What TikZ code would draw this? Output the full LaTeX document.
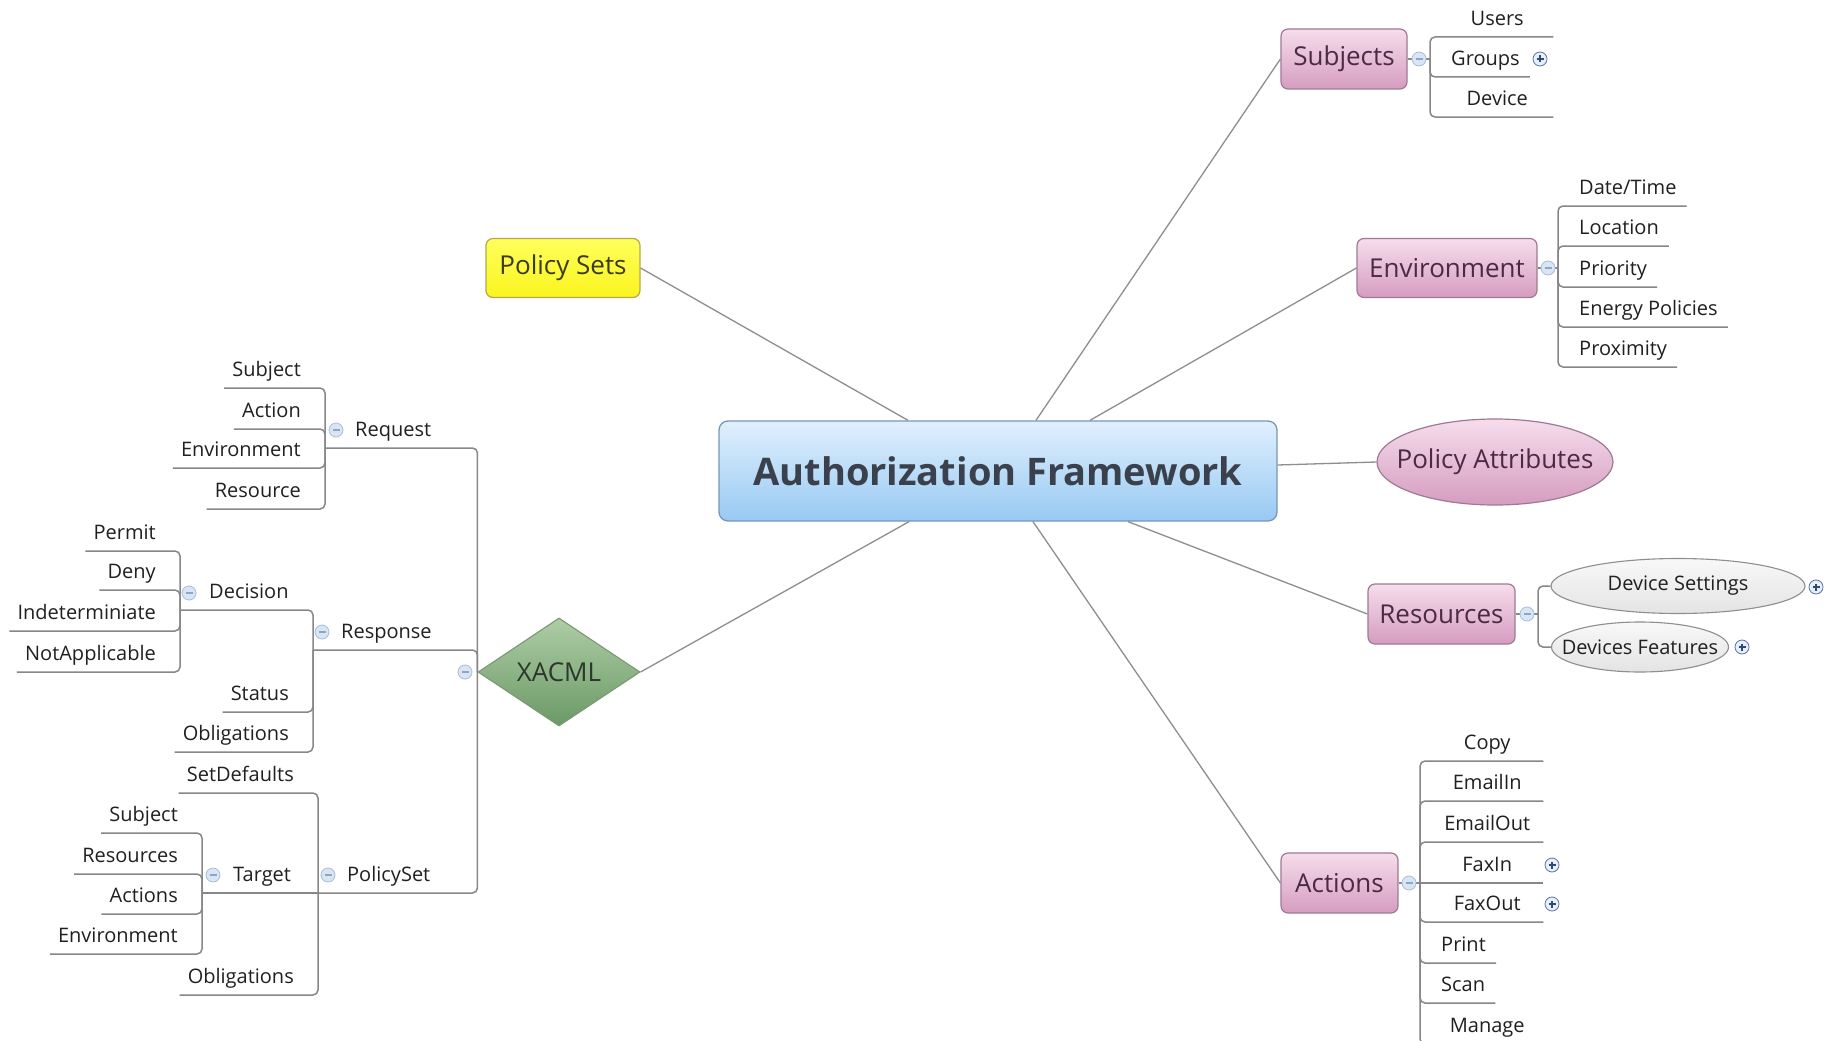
\documentclass[tikz,border=0pt]{standalone}
\usepackage{fontspec}
\setmainfont{Open Sans}
\usetikzlibrary{shapes.geometric}

\definecolor{linegray}{HTML}{8E8E8E}
\definecolor{ulinegray}{HTML}{878787}
\definecolor{leaftext}{HTML}{202020}
\definecolor{pinktop}{HTML}{F6DDEC}
\definecolor{pinkbot}{HTML}{D59CC0}
\definecolor{pinkedge}{HTML}{9E7A92}
\definecolor{pinktext}{HTML}{4A2A44}
\definecolor{bluetop}{HTML}{E0F0FD}
\definecolor{bluebot}{HTML}{98C9F3}
\definecolor{blueedge}{HTML}{7896B8}
\definecolor{bluetext}{HTML}{3A414C}
\definecolor{yeltop}{HTML}{FFFF5C}
\definecolor{yelbot}{HTML}{FAF41E}
\definecolor{yeledge}{HTML}{B5A94E}
\definecolor{yeltext}{HTML}{3C3A20}
\definecolor{greentop}{HTML}{AECDA6}
\definecolor{greenbot}{HTML}{6B9966}
\definecolor{greenedge}{HTML}{7A9872}
\definecolor{greentext}{HTML}{2B382B}
\definecolor{ovaltop}{HTML}{F8F8F8}
\definecolor{ovalbot}{HTML}{E4E4E4}
\definecolor{ovaledge}{HTML}{8E8E8E}
\definecolor{foldfill}{HTML}{D9E5F3}
\definecolor{foldedge}{HTML}{A6BEDC}
\definecolor{foldsign}{HTML}{8EA6C6}
\definecolor{plusfill}{HTML}{E8EFF8}
\definecolor{plusedge}{HTML}{5874A6}
\definecolor{plussign}{HTML}{2A4A80}

\newcommand{\leaffont}{\fontsize{20}{24}\selectfont}
\newcommand{\topicfont}{\fontsize{26}{31}\selectfont}

\tikzset{
  conn/.style={draw=linegray, line width=1.3pt},
  uline/.style={draw=ulinegray, line width=1.5pt, rounded corners=5pt},
  topic/.style={rounded corners=7pt, draw=pinkedge, line width=1.2pt,
    top color=pinktop, bottom color=pinkbot, text=pinktext,
    font=\topicfont, inner sep=0pt},
  yellowtopic/.style={topic, draw=yeledge, top color=yeltop,
    bottom color=yelbot, text=yeltext},
  central/.style={rounded corners=9pt, draw=blueedge, line width=1.3pt,
    top color=bluetop, bottom color=bluebot, text=bluetext,
    font=\fontsize{38}{44}\selectfont\bfseries, inner sep=0pt,
    minimum width=558pt, minimum height=100pt},
  pinkoval/.style={ellipse, draw=pinkedge, line width=1.2pt,
    top color=pinktop, bottom color=pinkbot, text=pinktext,
    font=\topicfont, inner sep=0pt},
  greyoval/.style={ellipse, draw=ovaledge, line width=1.1pt,
    top color=ovaltop, bottom color=ovalbot, text=leaftext,
    font=\leaffont, inner sep=0pt},
  greendiamond/.style={diamond, aspect=1.5, draw=greenedge, line width=1.1pt,
    top color=greentop, bottom color=greenbot, text=greentext,
    font=\topicfont, inner sep=0pt, minimum width=162pt, minimum height=108pt},
  leafbase/.style={inner ysep=0pt, text height=18pt, text depth=11.5pt,
    font=\leaffont, text=leaftext},
  leafR/.style={leafbase, anchor=south west, inner xsep=10pt,
    execute at begin node={\hspace*{11pt}}},
  leafL/.style={leafbase, anchor=south east, inner xsep=8pt,
    execute at end node={\hspace*{16pt}}},
  midtopic/.style={leafbase, anchor=south west, inner xsep=0pt},
  fold/.style={circle, minimum size=14pt, inner sep=0pt, draw=foldedge,
    fill=foldfill, line width=0.8pt,
    path picture={\draw[foldsign, line width=1.3pt]
      ([xshift=-3.5pt]path picture bounding box.center) --
      ([xshift=3.5pt]path picture bounding box.center);}},
  expand/.style={circle, minimum size=14pt, inner sep=0pt, draw=plusedge,
    fill=plusfill, line width=0.8pt,
    path picture={\draw[plussign, line width=1.2pt]
      ([xshift=-3.5pt]path picture bounding box.center) --
      ([xshift=3.5pt]path picture bounding box.center)
      ([yshift=-3.5pt]path picture bounding box.center) --
      ([yshift=3.5pt]path picture bounding box.center);}},
}

\begin{document}
\begin{tikzpicture}[x=1pt,y=-1pt]
\useasboundingbox (0,0) rectangle (1837,1041);
\clip (0,0) rectangle (1837,1041);
\fill[white] (0,0) rectangle (1837,1041);

% ---------- main topics ----------
\node[central] (af) at (998,471) {Authorization Framework};
\node[yellowtopic, minimum width=154pt, minimum height=59pt] (pset) at (563,268) {Policy Sets};
\node[topic, minimum width=126pt, minimum height=60pt] (subj) at (1344,59) {Subjects};
\node[topic, minimum width=180pt, minimum height=59pt] (env) at (1447,268) {Environment};
\node[pinkoval, minimum width=236pt, minimum height=86pt] (pattr) at (1495,462) {\makebox[0pt]{Policy Attributes}};
\node[topic, minimum width=147pt, minimum height=60pt] (res) at (1441.5,614) {Resources};
\node[topic, minimum width=117pt, minimum height=60pt] (act) at (1339.5,883) {Actions};
\node[greendiamond] (xacml) at (559,672) {XACML};

% ---------- connectors from the central topic ----------
\draw[conn] ([xshift=-90pt]af.north) -- (pset.east);
\draw[conn] ([xshift=38pt]af.north) -- (subj.west);
\draw[conn] ([xshift=92pt]af.north) -- (env.west);
\draw[conn] ([yshift=6pt]af.east) -- (pattr.west);
\draw[conn] ([xshift=130pt]af.south) -- (res.west);
\draw[conn] ([xshift=35pt]af.south) -- (act.west);
\draw[conn] ([xshift=-89pt]af.south) -- (xacml.east);

% ---------- Subjects ----------
\coordinate (subj-j) at (1430,59);
\draw[uline] (subj.east) -- (subj-j);
\node[leafR, minimum width=123pt] (users) at (1430,37) {Users};
\node[leafR] (groups) at (1430,77) {Groups};
\node[leafR, minimum width=123pt] (device) at (1430,117) {Device};
\foreach \n in {users,groups,device} \draw[uline] (\n.south east) -| (subj-j);
\node[fold] (subj-f) at (1419,59) {};
\node[expand] (groups-x) at (1540,59) {};

% ---------- Environment ----------
\coordinate (env-j) at (1558,268);
\draw[uline] (env.east) -- (env-j);
\node[leafR] (datetime) at (1558,206) {Date/Time};
\node[leafR] (location) at (1558,246) {Location};
\node[leafR] (priority) at (1558,287) {Priority};
\node[leafR] (energy) at (1558,327) {Energy Policies};
\node[leafR] (proximity) at (1558,367) {Proximity};
\foreach \n in {datetime,location,priority,energy,proximity} \draw[uline] (\n.south east) -| (env-j);
\node[fold] (env-f) at (1548,268) {};

% ---------- Resources ----------
\coordinate (res-j) at (1538,614);
\draw[uline] (res.east) -- (res-j);
\node[greyoval, minimum width=254pt, minimum height=55pt] (dset) at (1678,586) {\makebox[0pt]{Device Settings}};
\node[greyoval, minimum width=177pt, minimum height=50pt] (dfeat) at (1640,647) {\makebox[0pt]{Devices Features}};
\draw[uline] (dset.west) -| (res-j);
\draw[uline] (dfeat.west) -| (res-j);
\node[fold] (res-f) at (1527,614) {};
\node[expand] (dset-x) at (1816,587) {};
\node[expand] (dfeat-x) at (1742,647) {};

% ---------- Actions ----------
\coordinate (act-j) at (1420,883);
\draw[uline] (act.east) -- (act-j);
\node[leafR, minimum width=123pt] (copy) at (1420,761) {Copy};
\node[leafR, minimum width=123pt] (emailin) at (1420,801) {EmailIn};
\node[leafR, minimum width=123pt] (emailout) at (1420,842) {EmailOut};
\node[leafR, minimum width=123pt] (faxin) at (1420,883) {FaxIn};
\node[leafR, minimum width=123pt] (faxout) at (1420,922) {FaxOut};
\node[leafR] (print) at (1420,963) {Print};
\node[leafR] (scan) at (1420,1003) {Scan};
\node[leafR, minimum width=123pt] (manage) at (1420,1044) {Manage};
\foreach \n in {copy,emailin,emailout,faxout,print,scan,manage} \draw[uline] (\n.south east) -| (act-j);
\draw[uline] (faxin.south east) -- (faxin.south west);
\node[fold] (act-f) at (1409,883) {};
\node[expand] (faxin-x) at (1552,865) {};
\node[expand] (faxout-x) at (1552,904) {};

% ---------- XACML: Request ----------
\node[midtopic] (req) at (355,448) {Request};
\coordinate (req-l) at (325,448);
\draw[uline] (req-l) -| (xacml.west);
\node[leafL] (rq-subject) at (325,388) {Subject};
\node[leafL] (rq-action) at (325,429) {Action};
\node[leafL] (rq-env) at (325,468) {Environment};
\node[leafL] (rq-resource) at (325,509) {Resource};
\foreach \n in {rq-subject,rq-action,rq-env,rq-resource} \draw[uline] (\n.south west) -| (req-l);
\node[fold] (req-f) at (336,430) {};

% ---------- XACML: Response ----------
\node[midtopic] (resp) at (341,650) {Response};
\coordinate (resp-l) at (313,650);
\draw[uline] (resp-l) -| (xacml.west);
\node[midtopic] (dec) at (209,610) {Decision};
\coordinate (dec-l) at (180,610);
\draw[uline] (dec-l) -| (resp-l);
\node[leafL] (permit) at (180,551) {Permit};
\node[leafL] (deny) at (180,590) {Deny};
\node[leafL] (indet) at (180,631) {Indeterminiate};
\node[leafL] (notapp) at (180,672) {NotApplicable};
\foreach \n in {permit,deny,indet,notapp} \draw[uline] (\n.south west) -| (dec-l);
\node[leafL] (status) at (313,712) {Status};
\node[leafL] (rs-oblig) at (313,752) {Obligations};
\foreach \n in {status,rs-oblig} \draw[uline] (\n.south west) -| (resp-l);
\node[fold] (resp-f) at (322,632) {};
\node[fold] (dec-f) at (189,593) {};

% ---------- XACML: PolicySet ----------
\node[midtopic] (pol) at (347,893) {PolicySet};
\coordinate (pol-l) at (318,893);
\draw[uline] (pol-l) -| (xacml.west);
\node[leafL] (setdef) at (318,793) {SetDefaults};
\node[leafL] (ps-oblig) at (318,995) {Obligations};
\foreach \n in {setdef,ps-oblig} \draw[uline] (\n.south west) -| (pol-l);
\node[midtopic] (tgt) at (233,893) {Target};
\coordinate (tgt-l) at (202,893);
\draw[uline] (tgt-l) -- (pol-l);
\node[leafL] (tg-subject) at (202,833) {Subject};
\node[leafL] (tg-resources) at (202,874) {Resources};
\node[leafL] (tg-actions) at (202,914) {Actions};
\node[leafL] (tg-env) at (202,954) {Environment};
\foreach \n in {tg-subject,tg-resources,tg-actions,tg-env} \draw[uline] (\n.south west) -| (tgt-l);
\node[fold] (pol-f) at (328,875) {};
\node[fold] (tgt-f) at (213,875) {};

\node[fold] (xacml-f) at (465,672) {};
\end{tikzpicture}
\end{document}
